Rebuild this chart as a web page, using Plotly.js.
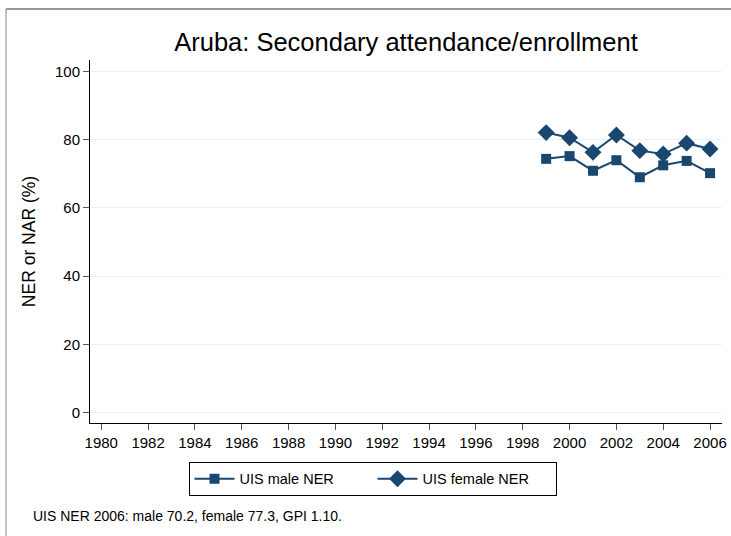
<!DOCTYPE html>
<html>
<head>
<meta charset="utf-8">
<script src="https://cdn.plot.ly/plotly-3.0.1.min.js"></script>
<style>
html,body{margin:0;padding:0;background:#fff;}
#chart{width:731px;height:536px;}
</style>
</head>
<body>
<div id="chart"></div>
<script>
const years = [1999, 2000, 2001, 2002, 2003, 2004, 2005, 2006];
const maleNER = [74.4, 75.2, 70.9, 74.0, 69.0, 72.5, 73.8, 70.2];
const femaleNER = [82.1, 80.6, 76.3, 81.4, 76.8, 75.8, 79.0, 77.3];
const xTicks = [1980,1982,1984,1986,1988,1990,1992,1994,1996,1998,2000,2002,2004,2006];
const yTicks = [0, 20, 40, 60, 80, 100];
const titleText = "Aruba: Secondary attendance/enrollment";
const yTitle = "NER or NAR (%)";
const noteText = "UIS NER 2006: male 70.2, female 77.3, GPI 1.10.";
const seriesNames = ["UIS male NER", "UIS female NER"];

const navy = "#1a476f";
const font = "Liberation Sans, Arial, sans-serif";

const traces = [
  {x: years, y: maleNER, name: seriesNames[0], type: "scatter", mode: "lines+markers",
   line: {color: navy, width: 2}, marker: {symbol: "square", size: 10, color: navy}},
  {x: years, y: femaleNER, name: seriesNames[1], type: "scatter", mode: "lines+markers",
   line: {color: navy, width: 2}, marker: {symbol: "diamond", size: 13, color: navy}}
];

const layout = {
  width: 731, height: 536,
  margin: {l: 90, r: 9, t: 60, b: 113},
  paper_bgcolor: "#fff", plot_bgcolor: "#fff",
  font: {family: font, color: "#000", size: 14},
  title: {text: titleText, font: {size: 25.5, family: font, color: "#000"},
          x: 0.5, xref: "paper", xanchor: "center", y: 1 - 42/536, yanchor: "middle"},
  xaxis: {range: [1979.52, 2006.51], tickvals: xTicks, ticktext: xTicks.map(String),
          showgrid: false, zeroline: false, showline: true, linecolor: "#000", linewidth: 1,
          ticks: "outside", ticklen: 6, tickcolor: "#555", tickwidth: 1,
          tickfont: {size: 15, family: font}},
  yaxis: {range: [-3.1, 103.4], tickvals: yTicks, ticktext: yTicks.map(String),
          showgrid: true, gridcolor: "#eaf0f3", gridwidth: 1, zeroline: false,
          showline: true, linecolor: "#000", linewidth: 1,
          ticks: "outside", ticklen: 6, tickcolor: "#555", tickwidth: 1,
          tickfont: {size: 15, family: font},
          title: {text: yTitle, font: {size: 17.5, family: font}, standoff: 14}},
  showlegend: true,
  legend: {orientation: "h", x: 0.447, xanchor: "center", y: -0.107, yanchor: "top",
           bordercolor: "#000", borderwidth: 1, font: {size: 14.5, family: font},
           itemwidth: 40, tracegroupgap: 0, entrywidth: 128, entrywidthmode: "pixels"},
  annotations: [{text: noteText, xref: "paper", yref: "paper", x: (31-90)/632, y: (423-516)/363,
                 xanchor: "left", yanchor: "middle", showarrow: false, font: {size: 14, family: font}}],
  shapes: [
    {type: "line", xref: "paper", yref: "paper", x0: (6-90)/632, x1: 1.2, y0: (423-9)/363, y1: (423-9)/363,
     line: {color: "#333", width: 1}},
    {type: "line", xref: "paper", yref: "paper", x0: (6-90)/632, x1: (6-90)/632, y0: (423-9)/363, y1: -0.5,
     line: {color: "#888", width: 1}}
  ]
};

Plotly.newPlot("chart", traces, layout, {displayModeBar: false, staticPlot: true});
</script>
</body>
</html>
